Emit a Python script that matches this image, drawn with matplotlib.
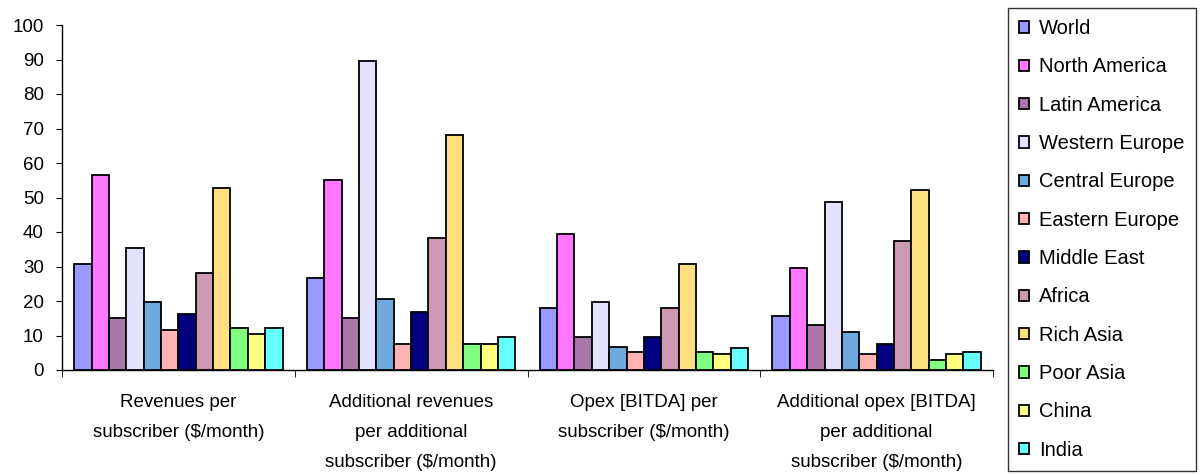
import matplotlib
matplotlib.use("Agg")
import matplotlib.pyplot as plt
import numpy as np

plt.rcParams['font.family'] = ['Liberation Sans', 'DejaVu Sans']

categories = ["Revenues per\nsubscriber ($/month)",
              "Additional revenues\nper additional\nsubscriber ($/month)",
              "Opex [BITDA] per\nsubscriber ($/month)",
              "Additional opex [BITDA]\nper additional\nsubscriber ($/month)"]
regions = ["World", "North America", "Latin America", "Western Europe", "Central Europe",
           "Eastern Europe", "Middle East", "Africa", "Rich Asia", "Poor Asia", "China", "India"]

world = [30.7, 26.8, 18.0, 15.6]
north_america = [56.4, 55.2, 39.4, 29.7]
latin_america = [15.2, 15.2, 9.7, 13.0]
western_europe = [35.4, 89.6, 19.8, 48.8]
central_europe = [19.8, 20.5, 6.8, 10.9]
eastern_europe = [11.5, 7.5, 5.2, 4.5]
middle_east = [16.1, 16.8, 9.7, 7.5]
africa = [28.0, 38.4, 18.1, 37.4]
rich_asia = [52.8, 68.0, 30.8, 52.3]
poor_asia = [12.1, 7.5, 5.2, 2.8]
china = [10.4, 7.5, 4.6, 4.5]
india = [12.1, 9.7, 6.3, 5.2]

series = [world, north_america, latin_america, western_europe, central_europe, eastern_europe,
          middle_east, africa, rich_asia, poor_asia, china, india]
colors = ['#9999FF', '#FF77FF', '#AA77AA', '#E3E3FF', '#6FA8DC', '#FFB3B3',
          '#000080', '#CC99B2', '#FFE080', '#80FF80', '#FFFF80', '#66FFFF']

fig = plt.figure(figsize=(12, 4.75), dpi=100)
ax = fig.add_axes([62/1200, 1-370/475, (993-62)/1200, (370-25)/475])

n = len(series)
group_w = 0.895
bw = group_w / n
x = np.arange(len(categories))
for i, (vals, c, name) in enumerate(zip(series, colors, regions)):
    ax.bar(x - group_w/2 + bw*(i+0.5), vals, width=bw, color=c, edgecolor='black',
           linewidth=1.3, label=name)

ax.set_xlim(-0.5, len(categories)-0.5)
ax.set_ylim(0, 100)
ax.set_yticks(np.arange(0, 101, 10))
ax.tick_params(axis='y', labelsize=13.5, direction='out', length=4, pad=9)
ax.set_xticks(x)
ax.set_xticklabels(categories, fontsize=13.5, va='top', linespacing=2.0)
ax.tick_params(axis='x', length=0, pad=17)
ax.set_xticks(np.arange(-0.5, len(categories), 1.0), minor=True)
ax.tick_params(axis='x', which='minor', length=5, direction='out')
for s in ['top', 'right']:
    ax.spines[s].set_visible(False)
ax.spines['left'].set_linewidth(1.0)
ax.spines['bottom'].set_linewidth(1.0)

leg = fig.legend(loc='upper left', bbox_to_anchor=(1008/1200, 1-8/475), fontsize=14.5,
                 frameon=True, fancybox=False, edgecolor='black', handlelength=0.5,
                 handleheight=0.5, handletextpad=0.5, labelspacing=0.96, borderpad=0.55,
                 borderaxespad=0)
leg.get_frame().set_linewidth(1.0)

fig.savefig('out.png', dpi=100)
